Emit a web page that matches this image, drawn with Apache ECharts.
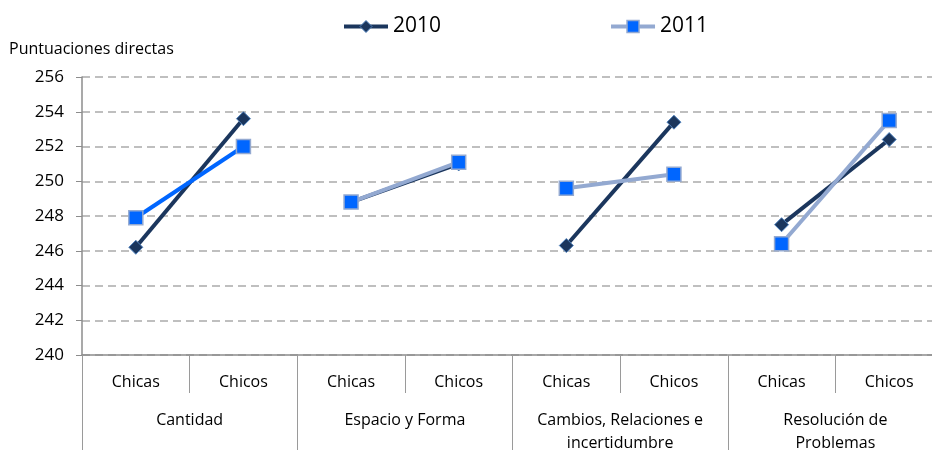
<!DOCTYPE html>
<html>
<head>
<meta charset="utf-8">
<script src="https://cdn.jsdelivr.net/npm/echarts@6/dist/echarts.min.js"></script>
<style>html,body{margin:0;padding:0;background:#fff}#c{width:932px;height:450px}</style>
</head>
<body>
<div id="c"></div>
<script>
const groups = ['Cantidad', 'Espacio y Forma', 'Cambios, Relaciones e\nincertidumbre', 'Resolución de\nProblemas'];
const genders = ['Chicas', 'Chicos'];
const categories = ['Chicas', 'Chicos', 'Chicas', 'Chicos', 'Chicas', 'Chicos', 'Chicas', 'Chicos'];
const seriesNames = ['2010', '2011'];
const values2010 = [246.2, 253.6, 248.8, 251.0, 246.3, 253.4, 247.5, 252.4];
const values2011 = [247.9, 252.0, 248.8, 251.1, 249.6, 250.4, 246.4, 253.5];
const yTicks = [240, 242, 244, 246, 248, 250, 252, 254, 256];

const FONT = 'Open Sans';
const navy = '#1B365D';
const navyBorder = '#4F81BD';
const steel = '#93A9D1';
const brightBlue = '#0066FF';

function groupData(vals, g) {
  return vals.map((v, i) => (Math.floor(i / genders.length) === g ? v : null));
}

const series = [];
groups.forEach((_, g) => {
  series.push({
    name: seriesNames[0], type: 'line', xAxisIndex: 0,
    data: groupData(values2010, g),
    symbol: 'diamond', symbolSize: 14,
    lineStyle: { color: navy, width: 4 },
    itemStyle: { color: navy, borderColor: navyBorder, borderWidth: 1 },
    z: 2, animation: false
  });
});
groups.forEach((_, g) => {
  series.push({
    name: seriesNames[1], type: 'line', xAxisIndex: 0,
    data: groupData(values2011, g),
    symbol: 'rect', symbolSize: 14,
    lineStyle: { color: g === 0 ? brightBlue : steel, width: 4 },
    itemStyle: { color: brightBlue, borderColor: steel, borderWidth: 1.5 },
    z: 3, animation: false
  });
});

const chart = echarts.init(document.getElementById('c'));
chart.setOption({
  animation: false,
  textStyle: { fontFamily: FONT },
  title: {
    text: 'Puntuaciones directas', left: 4, top: 36,
    textStyle: { fontFamily: FONT, fontSize: 16, fontWeight: 'normal', color: '#000' }
  },
  legend: {
    left: 337, top: 11, itemGap: 168, itemWidth: 44, itemHeight: 15, itemTextGap: 4,
    textStyle: { fontFamily: FONT, fontSize: 21, color: '#000' },
    data: [
      { name: seriesNames[0], itemStyle: { color: navy, borderColor: navyBorder, borderWidth: 1 }, lineStyle: { color: navy, width: 4 } },
      { name: seriesNames[1], itemStyle: { color: brightBlue, borderColor: steel, borderWidth: 1.5 }, lineStyle: { color: steel, width: 4 } }
    ]
  },
  grid: { left: 82, top: 77, width: 861, height: 278, containLabel: false, outerBoundsMode: 'none' },
  xAxis: [
    {
      type: 'category', position: 'bottom', data: categories, boundaryGap: true,
      axisLine: { show: true, lineStyle: { color: '#8C8C8C', width: 1.5 } },
      axisTick: { show: true, interval: 0, length: 38, lineStyle: { color: '#9A9A9A', width: 1 } },
      axisLabel: { interval: 0, margin: 19, fontFamily: FONT, fontSize: 16, color: '#000' },
      splitLine: { show: false }
    },
    {
      type: 'category', position: 'bottom', data: groups, boundaryGap: true,
      axisLine: { show: false },
      axisTick: { show: true, interval: 0, length: 100, lineStyle: { color: '#9A9A9A', width: 1 } },
      axisLabel: { interval: 0, margin: 54, fontFamily: FONT, fontSize: 16, color: '#000', lineHeight: 23, verticalAlign: 'top' },
      splitLine: { show: false }
    }
  ],
  yAxis: {
    type: 'value', min: yTicks[0], max: yTicks[yTicks.length - 1], interval: 2,
    axisLine: { show: true, lineStyle: { color: '#8C8C8C', width: 1.5 } },
    axisTick: { show: true, length: 6, lineStyle: { color: '#8C8C8C' } },
    axisLabel: { margin: 18, fontFamily: FONT, fontSize: 17, color: '#000' },
    splitLine: { show: true, lineStyle: { color: '#ABABAB', width: 1.5, type: [8, 5] } }
  },
  series: series
});
</script>
</body>
</html>
